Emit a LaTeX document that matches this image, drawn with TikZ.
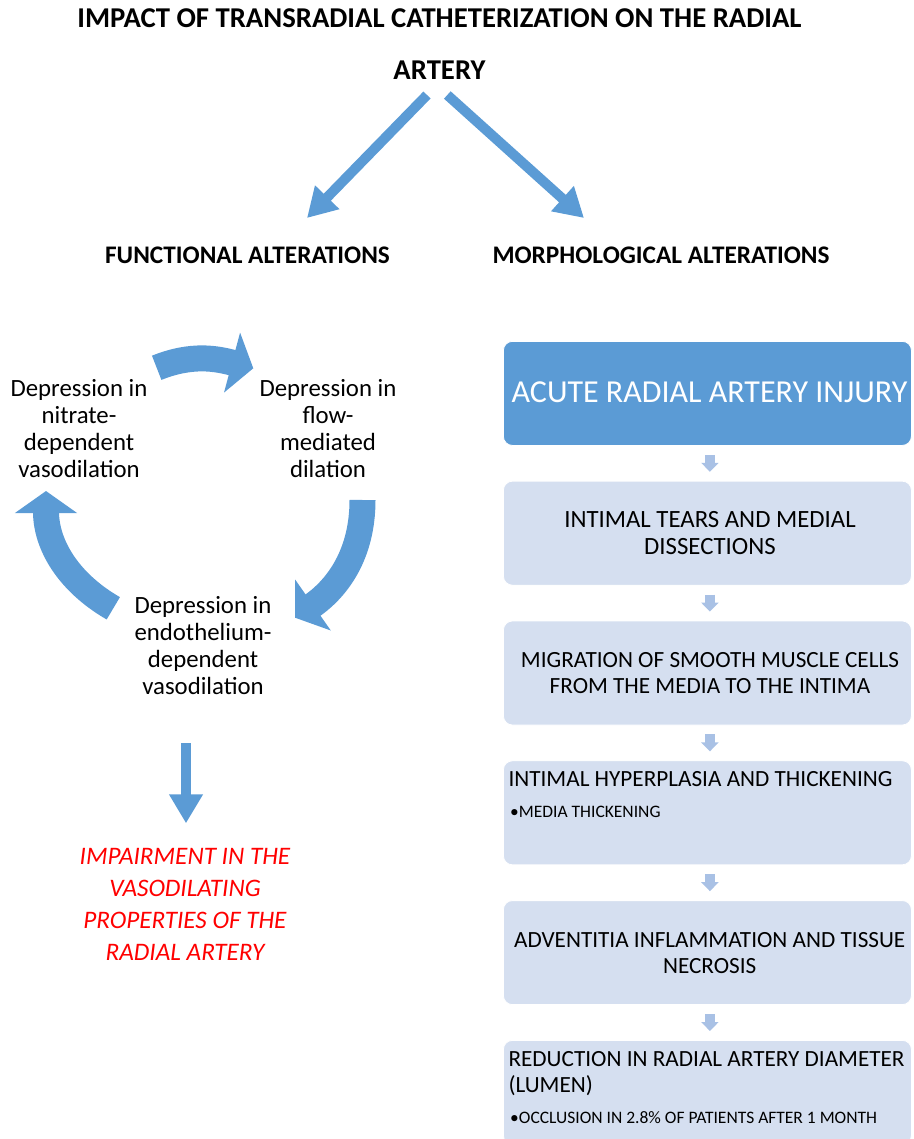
\documentclass[tikz,border=0pt]{standalone}
\usepackage{fontspec}
\setmainfont{Carlito}
\usetikzlibrary{arrows.meta}

\definecolor{cycleblue}{HTML}{5B9BD5}
\definecolor{boxlight}{HTML}{D5DFF0}
\definecolor{chevblue}{HTML}{A9C1E5}

\tikzset{
  titletext/.style={font=\fontsize{28.7}{51.2}\selectfont\bfseries, align=center, inner sep=0pt},
  headtext/.style={font=\fontsize{25.3}{27}\selectfont\bfseries, inner sep=0pt},
  cycletext/.style={font=\fontsize{24.8}{27}\selectfont, align=center, inner sep=0pt},
  boxtext/.style={font=\fontsize{23.2}{26}\selectfont, align=center, inner sep=0pt},
  bullettext/.style={font=\fontsize{17.5}{20}\selectfont, inner sep=0pt, anchor=base west},
  impairtext/.style={font=\fontsize{25.2}{32}\selectfont\itshape, text=red, align=center, inner sep=0pt},
  stepbox/.style={draw=white, line width=0.8pt, rounded corners=9pt, minimum width=408pt, minimum height=104pt, inner sep=0pt, anchor=north west},
  bigarrow/.style={draw=cycleblue, line width=10pt, -{Triangle[width=32pt,length=29pt]}},
  cyclearrow/.style={draw=cycleblue, line width=26pt, -{Triangle[width=61pt,length=22pt]}},
  chevarrow/.style={draw=chevblue, line width=10pt, -{Triangle[width=17pt,length=9pt]}}
}

\begin{document}
\begin{tikzpicture}[x=1pt,y=1pt]
\useasboundingbox (0,0) rectangle (913,-1139);
\clip (0,0) rectangle (913,-1139);

% title and the two branches
\node[titletext] (title) at (439.5,-44) {IMPACT OF TRANSRADIAL CATHETERIZATION ON THE RADIAL\\ARTERY};
\node[headtext] (functional) at (247.5,-255) {FUNCTIONAL ALTERATIONS};
\node[headtext] (morpho) at (661,-255) {MORPHOLOGICAL ALTERATIONS};

\coordinate (fromL) at (427,-95);
\coordinate (toL) at (307,-218);
\coordinate (fromR) at (447.3,-95);
\coordinate (toR) at (584,-218);
\draw[bigarrow] (fromL) -- (toL);
\draw[bigarrow] (fromR) -- (toR);

% functional side: the cycle
\node[cycletext] (nitrate) at (79,-428.5) {Depression in\\nitrate-\\dependent\\vasodilation};
\node[cycletext] (flow) at (328,-428.5) {Depression in\\flow-\\mediated\\dilation};
\node[cycletext] (endo) at (203,-645.5) {Depression in\\endothelium-\\dependent\\vasodilation};

\coordinate (c1s) at (156.7,-367.8);
\coordinate (c1e) at (253.3,-368.3);
\coordinate (c2s) at (362.5,-500);
\coordinate (c2e) at (295,-617.7);
\coordinate (c3s) at (113.3,-608.3);
\coordinate (c3e) at (46,-491);
\draw[cyclearrow] (c1s) to[out=22,in=165] (c1e);
\draw[cyclearrow] (c2s) to[out=-90,in=35] (c2e);
\draw[cyclearrow] (c3s) to[out=150,in=-90] (c3e);

\coordinate (downs) at (186,-743);
\coordinate (downe) at (186,-823.3);
\draw[bigarrow] (downs) -- (downe);

\node[impairtext] (impair) at (185,-904) {IMPAIRMENT IN THE\\VASODILATING\\PROPERTIES OF THE\\RADIAL ARTERY};

% morphological side: the steps
\node[stepbox, fill=cycleblue] (box1) at (503,-341) {};
\foreach \i in {2,...,6}{
  \pgfmathsetmacro{\btop}{-341-139.8*(\i-1)}
  \node[stepbox, fill=boxlight] (box\i) at (503,\btop) {};
}
\foreach \i [evaluate=\i as \j using int(\i+1)] in {1,...,5}
  \draw[chevarrow] ([xshift=2.5pt,yshift=-9pt]box\i.south) -- ([xshift=2.5pt,yshift=9pt]box\j.north);

\node[boxtext, text=white, font=\fontsize{32}{36}\selectfont] (t1) at (709.5,-392.5) {ACUTE RADIAL ARTERY INJURY};
\node[boxtext, font=\fontsize{24.8}{27}\selectfont] (t2) at (710,-533) {INTIMAL TEARS AND MEDIAL\\DISSECTIONS};
\node[boxtext] (t3) at (710,-673) {MIGRATION OF SMOOTH MUSCLE CELLS\\FROM THE MEDIA TO THE INTIMA};
\node[boxtext, anchor=base west] (t4) at (508.3,-786) {INTIMAL HYPERPLASIA AND THICKENING};
\node[bullettext] (t4b) at (510,-817) {\textbullet MEDIA THICKENING};
\node[boxtext] (t5) at (709.7,-953) {ADVENTITIA INFLAMMATION AND TISSUE\\NECROSIS};
\node[boxtext, align=left, anchor=north west] (t6) at (508.3,-1051.1) {REDUCTION IN RADIAL ARTERY DIAMETER\\(LUMEN)};
\node[bullettext] (t6b) at (510,-1123) {\textbullet OCCLUSION IN 2.8\% OF PATIENTS AFTER 1 MONTH};

\end{tikzpicture}
\end{document}
